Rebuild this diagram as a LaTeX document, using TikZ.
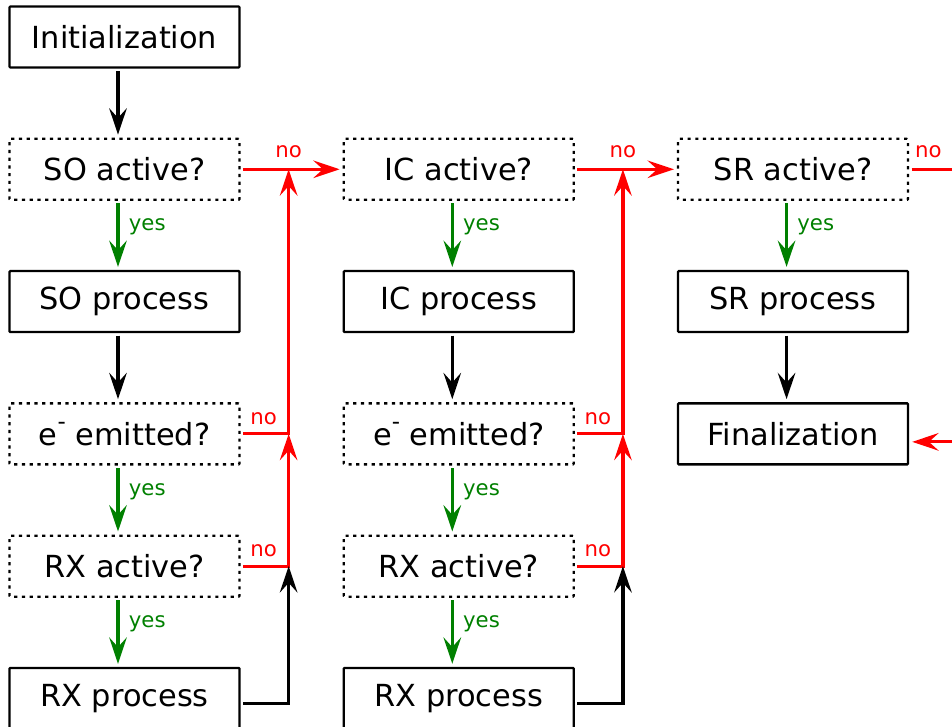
\documentclass[tikz,border=0pt]{standalone}
\usepackage{fontspec}
\setmainfont{DejaVu Sans}
\usepackage{xcolor}
\usetikzlibrary{positioning, arrows.meta}

\newcommand{\electron}{e\raisebox{0.5em}{\fontsize{13}{13}\selectfont-}}

\begin{document}
\begin{tikzpicture}[
		node distance=1.38cm and 2.04cm,
		box/.style={draw, line width=1.3pt, minimum width=4.6cm, minimum height=1.22cm,
			inner sep=0pt, rounded corners=0.5pt, font=\fontsize{17.3}{20}\selectfont},
		question/.style={box, dash pattern=on 1.8pt off 2.6pt},
		flow/.style={line width=1.8pt, -{Stealth[length=15pt, width=10pt, inset=5.5pt]},
			shorten <=0.05cm, shorten >=0.06cm},
		yesflow/.style={flow, green!50!black},
		noflow/.style={flow, red},
		answer/.style={font=\fontsize{12.1}{14}\selectfont, inner sep=1pt},
	]
	\useasboundingbox (0,0) rectangle (19.04,-14.54);
	
	% first column
	\node[box] (init) at (2.49,-0.74) {Initialization};
	\node[question, below=of init] (soq) {SO active?};
	\node[box, below=of soq] (sop) {SO process};
	\node[question, below=of sop] (soe) {\electron{} emitted?};
	\node[question, below=of soe] (sorx) {RX active?};
	\node[box, below=of sorx] (sorxp) {RX process};
	
	% second column
	\node[question, right=of soq] (icq) {IC active?};
	\node[box, below=of icq] (icp) {IC process};
	\node[question, below=of icp] (ice) {\electron{} emitted?};
	\node[question, below=of ice] (icrx) {RX active?};
	\node[box, below=of icrx] (icrxp) {RX process};
	
	% third column
	\node[question, right=of icq] (srq) {SR active?};
	\node[box, below=of srq] (srp) {SR process};
	\node[box, below=of srp] (fin) {Finalization};
	
	% corners of the no lines
	\coordinate (soc1) at ([xshift=0.96cm]soq.east);
	\coordinate (soc2) at ([xshift=0.96cm]soe.east);
	\coordinate (soc3) at ([xshift=0.96cm]sorx.east);
	\coordinate (icc1) at ([xshift=0.96cm]icq.east);
	\coordinate (icc2) at ([xshift=0.96cm]ice.east);
	\coordinate (icc3) at ([xshift=0.96cm]icrx.east);
	\coordinate (srout) at (19.04,0 |- srq.east);
	\coordinate (finin) at ([yshift=-0.16cm]19.04,0 |- fin.east);
	
	\draw[flow] ([xshift=-0.13cm]init.south) -- ([xshift=-0.13cm]soq.north);
	
	\foreach \c in {so, ic} {
		\draw[yesflow] ([xshift=-0.13cm]\c q.south) -- ([xshift=-0.13cm]\c p.north)
		node [pos=0.38, right=0.15cm, answer] {yes};
		\draw[flow] ([xshift=-0.13cm]\c p.south) -- ([xshift=-0.13cm]\c e.north);
		\draw[yesflow] ([xshift=-0.13cm]\c e.south) -- ([xshift=-0.13cm]\c rx.north)
		node [pos=0.38, right=0.15cm, answer] {yes};
		\draw[yesflow] ([xshift=-0.13cm]\c rx.south) -- ([xshift=-0.13cm]\c rxp.north)
		node [pos=0.38, right=0.15cm, answer] {yes};
		
		\draw[noflow, shorten >=0pt] (\c e.east) -| (\c c1)
		node [pos=0.24, above=0.12cm, answer] {no};
		\draw[noflow, shorten >=0pt] (\c rx.east) -| (\c c2)
		node [pos=0.24, above=0.12cm, answer] {no};
		\draw[flow, shorten >=0pt] ([yshift=-0.1cm]\c rxp.east) -| (\c c3);
	}
	
	\draw[noflow] (soq.east) -- (icq.west)
	node [pos=0.47, above=0.17cm, answer] {no};
	\draw[noflow] (icq.east) -- (srq.west)
	node [pos=0.47, above=0.17cm, answer] {no};
	\draw[noflow, -, shorten >=0pt] (srq.east) -- (srout)
	node [pos=0.45, above=0.17cm, answer] {no};
	
	\draw[yesflow] ([xshift=-0.13cm]srq.south) -- ([xshift=-0.13cm]srp.north)
	node [pos=0.38, right=0.15cm, answer] {yes};
	\draw[flow] ([xshift=-0.13cm]srp.south) -- ([xshift=-0.13cm]fin.north);
	\draw[noflow, shorten <=0pt] (finin) -- (finin -| fin.east);
\end{tikzpicture}
\end{document}
